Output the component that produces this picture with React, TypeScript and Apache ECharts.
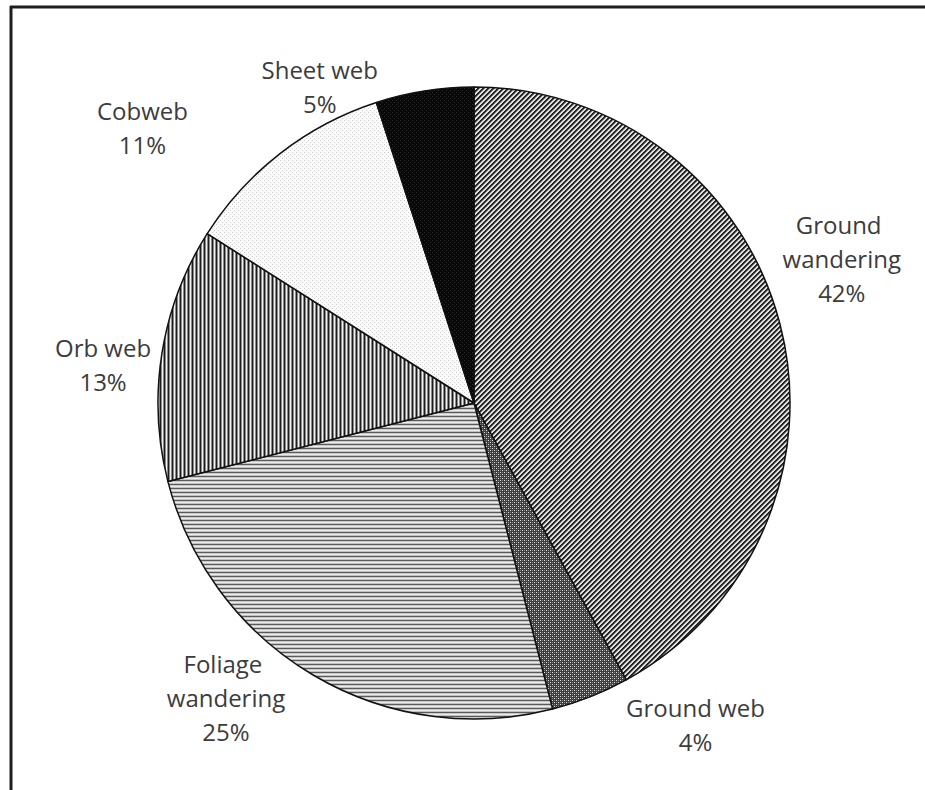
import { useEffect, useRef } from 'react';
import * as echarts from 'echarts';

// Share of spider species by hunting guild (%)
const categories = [
  'Ground wandering',
  'Ground web',
  'Foliage wandering',
  'Orb web',
  'Cobweb',
  'Sheet web',
];
const shares = [42, 4, 25, 13, 11, 5];

// Label anchors: distance from the pie centre (px) and turn from the slice's mid-angle (deg)
const labelDistance = [395, 390, 385, 373, 431, 352];
const labelTurn = [-7, -13, 9.5, -3, -12.5, -17];

const CENTER = [474, 403];
const RADIUS = 316;

type Paint = (x: number, y: number) => string;

function tile(w: number, h: number, paint: Paint) {
  const c = document.createElement('canvas');
  c.width = w;
  c.height = h;
  const ctx = c.getContext('2d')!;
  for (let y = 0; y < h; y++) {
    for (let x = 0; x < w; x++) {
      ctx.fillStyle = paint(x, y);
      ctx.fillRect(x, y, 1, 1);
    }
  }
  return { image: c.toDataURL(), repeat: 'repeat', imageWidth: w, imageHeight: h };
}

function hatchFills() {
  // fine "/" diagonal hatch
  const diagonal = tile(5, 5, (x, y) => ['#1e1e1e', '#2a2a2a', '#7a7a7a', '#e6e6e6', '#d8d8d8'][(x + y) % 5]);
  // dense dark lattice with light dots
  const lattice = tile(4, 4, (x, y) => {
    if ((x === 0 && y === 0) || (x === 2 && y === 2)) return '#e2e2e2';
    if ((x === 0 && y === 2) || (x === 2 && y === 0)) return '#808080';
    return '#3e3e3e';
  });
  // horizontal lines
  const horizontal = tile(1, 4, (_x, y) => ['#5a5a5a', '#c8c8c8', '#ececec', '#c0c0c0'][y]);
  // vertical lines
  const vertical = tile(4, 1, (x) => ['#1c1c1c', '#8a8a8a', '#f2f2f2', '#8a8a8a'][x]);
  // faint dotted
  const dotted = tile(4, 4, (x, y) =>
    (x === 0 && y === 0) || (x === 2 && y === 2) ? '#cfcfcf' : '#fbfbfb'
  );
  // solid black with faint dots
  const solid = tile(4, 4, (x, y) =>
    (x === 0 && y === 0) || (x === 2 && y === 2) ? '#2a2a2a' : '#080808'
  );
  return [diagonal, lattice, horizontal, vertical, dotted, solid];
}

export default function App() {
  const ref = useRef<HTMLDivElement>(null);

  useEffect(() => {
    document.body.style.margin = '0';
    if (!ref.current) return;
    const chart = echarts.init(ref.current, undefined, { renderer: 'svg' });
    const fills = hatchFills();
    const total = shares.reduce((a, b) => a + b, 0);

    const midAngle = (i: number) => {
      let before = 0;
      for (let k = 0; k < i; k++) before += shares[k];
      return ((before + shares[i] / 2) / total) * 360;
    };

    chart.setOption({
      animation: false,
      backgroundColor: '#ffffff',
      graphic: [
        {
          type: 'line',
          shape: { x1: 10, y1: 7, x2: 925, y2: 7 },
          style: { stroke: '#1e1e1e', lineWidth: 3 },
        },
        {
          type: 'line',
          shape: { x1: 11, y1: 6, x2: 11, y2: 790 },
          style: { stroke: '#1e1e1e', lineWidth: 3 },
        },
      ],
      series: [
        {
          type: 'pie',
          center: CENTER,
          radius: RADIUS,
          startAngle: 90,
          clockwise: true,
          avoidLabelOverlap: false,
          itemStyle: { borderColor: '#111111', borderWidth: 1.5 },
          emphasis: { disabled: true },
          label: {
            show: true,
            position: 'outside',
            formatter: (p: any) => `${p.name}\n${Math.round(p.percent)}%`,
            fontFamily: 'Open Sans',
            fontSize: 24,
            lineHeight: 34,
            color: '#3c3c3c',
            align: 'center',
            width: 160,
            overflow: 'break',
          },
          labelLine: { show: false },
          labelLayout: (params: any) => {
            const i = params.dataIndex;
            const a = ((midAngle(i) + labelTurn[i]) * Math.PI) / 180;
            return {
              x: CENTER[0] + labelDistance[i] * Math.sin(a),
              y: CENTER[1] - labelDistance[i] * Math.cos(a),
              align: 'center',
              verticalAlign: 'middle',
            };
          },
          data: categories.map((name, i) => ({
            name,
            value: shares[i],
            itemStyle: { color: fills[i] },
          })),
        },
      ],
    });

    return () => chart.dispose();
  }, []);

  return <div ref={ref} style={{ width: 925, height: 790 }} />;
}
